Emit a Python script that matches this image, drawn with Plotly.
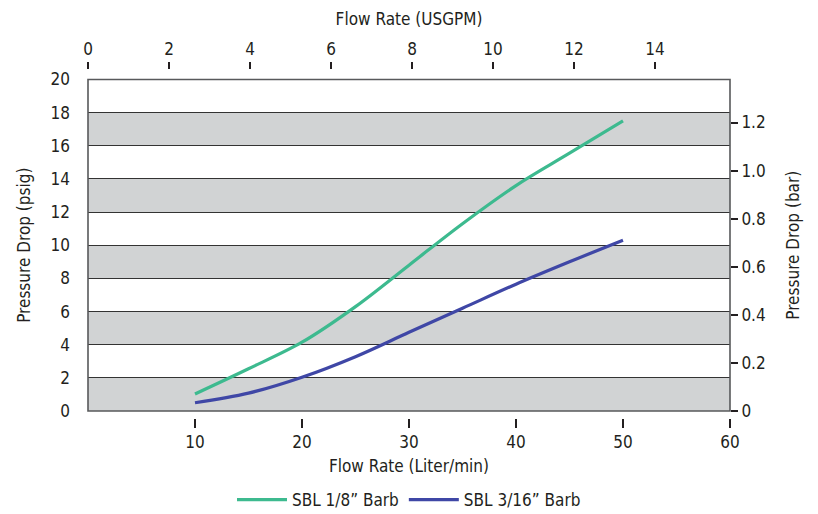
import plotly.graph_objects as go

# Data
flow_lpm = [10, 15, 20, 25, 30, 35, 40, 45, 50]
sbl_18 = [1.03, 2.55, 4.15, 6.3, 8.8, 11.3, 13.6, 15.55, 17.5]
sbl_316 = [0.5, 1.08, 2.04, 3.28, 4.75, 6.2, 7.65, 9.0, 10.3]

series_names = ["SBL 1/8\u201d Barb", "SBL 3/16\u201d Barb"]
series_colors = ["#3dba8f", "#3f47a6"]

bottom_ticks = [10, 20, 30, 40, 50, 60]
top_ticks = [0, 2, 4, 6, 8, 10, 12, 14]
left_ticks = [0, 2, 4, 6, 8, 10, 12, 14, 16, 18, 20]
right_ticks = [0, 0.2, 0.4, 0.6, 0.8, 1.0, 1.2]
right_labels = ["0", "0.2", "0.4", "0.6", "0.8", "1.0", "1.2"]
gray_bands = [(0, 2), (4, 6), (8, 10), (12, 14), (16, 18)]

LPM_PER_GPM = 3.78541
BAR_PER_PSI = 0.0689476
X_MAX = 60
Y_MAX = 20

FONT = "DejaVu Sans Condensed, sans-serif"
TXT = "#231f20"
YDOM = [0.020, 0.970]

fig = go.Figure()
for name, vals, col in zip(series_names, [sbl_18, sbl_316], series_colors):
    fig.add_trace(go.Scatter(
        x=flow_lpm, y=vals, name=name, mode="lines",
        line=dict(color=col, width=3.2, shape="spline", smoothing=1.0),
    ))

shapes = []
for lo, hi in gray_bands:
    shapes.append(dict(type="rect", xref="x domain", yref="y", x0=0, x1=1, y0=lo, y1=hi,
                       fillcolor="#d1d3d4", line=dict(width=0), layer="below"))
shapes.append(dict(type="rect", xref="x domain", yref="y domain", x0=0, x1=1, y0=0, y1=1,
                   line=dict(color="#58595b", width=1.6), fillcolor="rgba(0,0,0,0)", layer="above"))

fig.update_layout(
    width=810, height=506,
    margin=dict(l=80, r=88, t=61, b=96, autoexpand=False),
    paper_bgcolor="white", plot_bgcolor="white",
    font=dict(family=FONT, size=17, color=TXT),
    shapes=shapes,
    showlegend=True,
    legend=dict(orientation="h", x=0.5, xanchor="center", y=-0.235, yanchor="middle",
                font=dict(size=17), itemwidth=50, traceorder="normal"),
    xaxis=dict(range=[0, X_MAX], tickvals=bottom_ticks, ticks="outside", ticklen=9,
               tickwidth=1.6, tickcolor=TXT, showgrid=False, zeroline=False, showline=False,
               anchor="free", position=0, automargin=False,
               title=dict(text="Flow Rate (Liter/min)", standoff=8, font=dict(size=17))),
    xaxis2=dict(range=[0, X_MAX / LPM_PER_GPM], tickvals=top_ticks, ticks="outside", ticklen=7,
                tickwidth=1.6, tickcolor=TXT, showgrid=False, zeroline=False, showline=False,
                overlaying="x", side="top", anchor="free", position=1, automargin=False,
                title=dict(text="Flow Rate (USGPM)", standoff=8, font=dict(size=17))),
    yaxis=dict(range=[0, Y_MAX], tickvals=left_ticks, domain=YDOM, ticks="",
               showgrid=True, gridcolor="#333333", gridwidth=1.2, zeroline=False, showline=False,
               ticklabelstandoff=17, automargin=False,
               title=dict(text="Pressure Drop (psig)", standoff=15, font=dict(size=17))),
    yaxis2=dict(range=[0, Y_MAX * BAR_PER_PSI], tickvals=right_ticks, ticktext=right_labels,
                domain=YDOM, overlaying="y", side="right", anchor="x", automargin=False,
                ticks="outside", ticklen=7, tickwidth=1.6, tickcolor=TXT,
                showgrid=False, zeroline=False, showline=False,
                title=dict(text="Pressure Drop (bar)", standoff=22, font=dict(size=17))),
)
# dummy trace to activate top/right axes
fig.add_trace(go.Scatter(x=[None], y=[None], xaxis="x2", yaxis="y2", showlegend=False,
                         hoverinfo="skip"))

fig.write_html("out.html")
